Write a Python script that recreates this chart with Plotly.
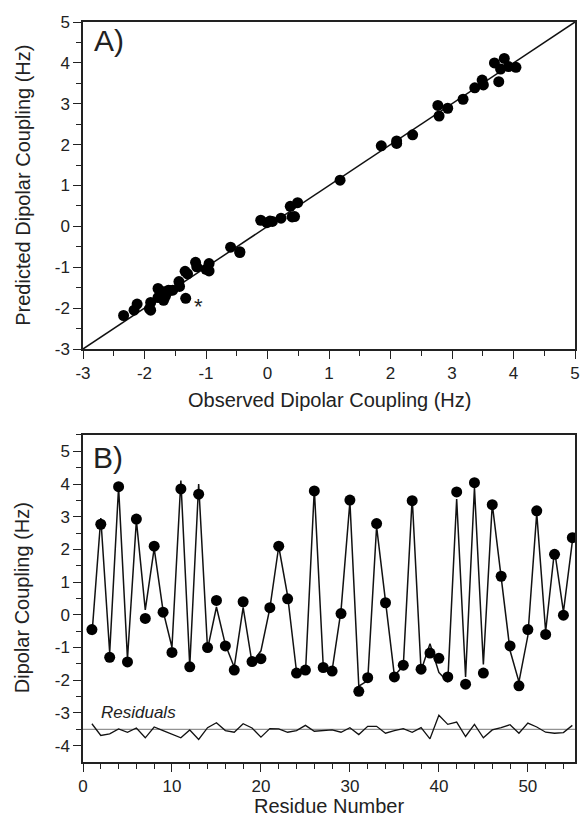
import plotly.graph_objects as go

residue = list(range(1, 56))
observed = [-0.45, 2.77, -1.30, 3.92, -1.44, 2.93, -0.11, 2.10, 0.08, -1.15,
            3.85, -1.59, 3.69, -1.00, 0.44, -0.95, -1.69, 0.40, -1.43, -1.34,
            0.22, 2.10, 0.49, -1.78, -1.69, 3.79, -1.61, -1.72, 0.04, 3.51,
            -2.34, -1.92, 2.79, 0.37, -1.90, -1.54, 3.49, -1.66, -1.17, -1.33,
            -1.90, 3.76, -2.12, 4.04, -1.78, 3.37, 1.18, -0.95, -2.17, -0.45,
            3.18, -0.60, 1.85, -0.01, 2.36]
residual = [0.17, -0.19, -0.14, 0.01, -0.09, 0.04, -0.26, 0.07, -0.04, -0.16,
            -0.26, -0.02, -0.31, 0.05, 0.20, -0.04, -0.09, 0.17, 0.04, -0.24,
            0.02, 0.01, -0.09, -0.04, 0.12, -0.06, -0.05, -0.02, -0.09, 0.05,
            -0.16, 0.09, 0.09, -0.12, -0.04, 0.02, -0.09, 0.05, -0.29, 0.43,
            0.15, 0.22, -0.22, 0.15, -0.26, -0.02, 0.05, 0.14, -0.12, 0.19,
            0.07, -0.09, -0.12, -0.10, 0.12]
residual_offset = -3.5
predicted = [round(o - r, 2) for o, r in zip(observed, residual)]
residual_plot = [residual_offset + r for r in residual]

a_ticks = [-3, -2, -1, 0, 1, 2, 3, 4, 5]
b_yticks = [-4, -3, -2, -1, 0, 1, 2, 3, 4, 5]
b_xticks = [0, 10, 20, 30, 40, 50]

FONT = "Liberation Sans, Arial, sans-serif"
TXT = "#222"
fig = go.Figure()

# Panel A
fig.add_trace(go.Scatter(x=[-3, 5], y=[-3, 5], mode="lines",
                         line=dict(color="#111", width=1.5),
                         xaxis="x", yaxis="y", showlegend=False))
fig.add_trace(go.Scatter(x=observed, y=predicted, mode="markers",
                         marker=dict(color="black", size=11),
                         xaxis="x", yaxis="y", showlegend=False))

# Panel B
fig.add_trace(go.Scatter(x=[0, 55.3], y=[residual_offset, residual_offset], mode="lines",
                         line=dict(color="#777", width=1),
                         xaxis="x2", yaxis="y2", showlegend=False))
fig.add_trace(go.Scatter(x=residue, y=residual_plot, mode="lines",
                         line=dict(color="#111", width=1.3),
                         xaxis="x2", yaxis="y2", showlegend=False))
fig.add_trace(go.Scatter(x=residue, y=predicted, mode="lines",
                         line=dict(color="#111", width=1.5),
                         xaxis="x2", yaxis="y2", showlegend=False))
fig.add_trace(go.Scatter(x=residue, y=observed, mode="markers",
                         marker=dict(color="black", size=11),
                         xaxis="x2", yaxis="y2", showlegend=False))

def half(vals):
    return [v + 0.5 for v in vals[:-1]]

ax_common = dict(showgrid=False, zeroline=False, showline=True, linecolor="#222",
                 linewidth=1.5, mirror=True, ticks="outside", ticklen=8,
                 tickwidth=1.3, tickcolor="#222",
                 tickfont=dict(family=FONT, size=17, color=TXT))
minor_common = dict(ticklen=5, ticks="outside", tickcolor="#222", tickwidth=1.3)

fig.update_layout(
    width=584, height=820,
    margin=dict(l=83, r=4, t=22, b=58),
    plot_bgcolor="white", paper_bgcolor="white",
    xaxis=dict(**ax_common, range=[-3, 5], domain=[0, 1], anchor="y",
               tickmode="array", tickvals=a_ticks, ticktext=[str(v) for v in a_ticks],
               minor=dict(tickvals=half(a_ticks), **minor_common)),
    yaxis=dict(**ax_common, range=[-3, 5], domain=[0.5581, 1], anchor="x",
               tickmode="array", tickvals=a_ticks, ticktext=[str(v) for v in a_ticks],
               minor=dict(tickvals=half(a_ticks), **minor_common)),
    xaxis2=dict(**ax_common, range=[0, 55.3], domain=[0, 1], anchor="y2",
                tickmode="array", tickvals=b_xticks, ticktext=[str(v) for v in b_xticks],
                minor=dict(tickvals=[v for v in range(2, 55, 2) if v % 10], **minor_common)),
    yaxis2=dict(**ax_common, range=[-4.5, 5.5], domain=[0, 0.4419], anchor="x2",
                tickmode="array", tickvals=b_yticks, ticktext=[str(v) for v in b_yticks],
                minor=dict(tickvals=[v + 0.5 for v in b_yticks], **minor_common)),
    annotations=[
        dict(text="A)", x=-2.85, y=4.55, xref="x", yref="y", showarrow=False,
             xanchor="left", yanchor="middle", font=dict(family=FONT, size=30, color=TXT)),
        dict(text="*", x=-1.13, y=-1.95, xref="x", yref="y", showarrow=False,
             font=dict(family=FONT, size=22, color=TXT)),
        dict(text="B)", x=0.9, y=4.8, xref="x2", yref="y2", showarrow=False,
             xanchor="left", yanchor="middle", font=dict(family=FONT, size=30, color=TXT)),
        dict(text="<i>Residuals</i>", x=1.8, y=-2.98, xref="x2", yref="y2", showarrow=False,
             xanchor="left", yanchor="middle", font=dict(family=FONT, size=17, color=TXT)),
        dict(text="Observed Dipolar Coupling (Hz)", x=0.5, y=0.4892, xref="paper", yref="paper",
             showarrow=False, yanchor="middle", font=dict(family=FONT, size=20, color=TXT)),
        dict(text="Residue Number", x=0.5, y=-0.06, xref="paper", yref="paper",
             showarrow=False, yanchor="middle", font=dict(family=FONT, size=20, color=TXT)),
        dict(text="Predicted Dipolar Coupling (Hz)", x=-0.1235, y=0.779, xref="paper", yref="paper",
             showarrow=False, textangle=-90, xanchor="center", yanchor="middle",
             font=dict(family=FONT, size=20, color=TXT)),
        dict(text="Dipolar Coupling (Hz)", x=-0.1235, y=0.2216, xref="paper", yref="paper",
             showarrow=False, textangle=-90, xanchor="center", yanchor="middle",
             font=dict(family=FONT, size=20, color=TXT)),
    ],
)

fig.write_html("out.html", config={"displayModeBar": False})

# remove the default page margin so the figure fills the 584x820 window exactly
with open("out.html", "r", encoding="utf-8") as f:
    html = f.read()
html = html.replace("<head>", "<head><style>html,body{margin:0;padding:0;overflow:hidden;}</style>", 1)
with open("out.html", "w", encoding="utf-8") as f:
    f.write(html)
